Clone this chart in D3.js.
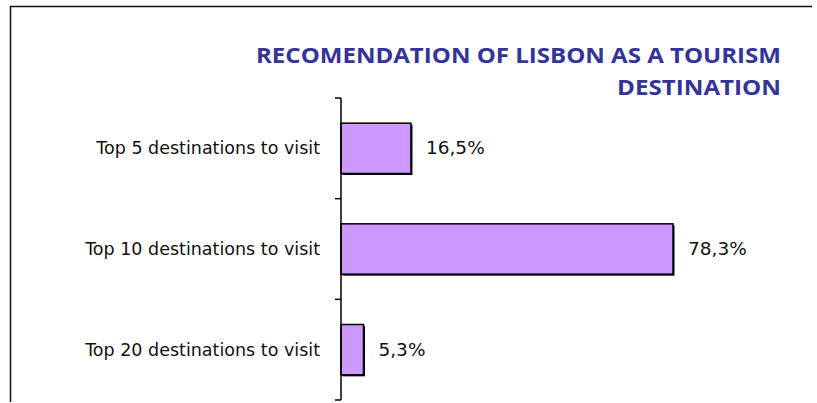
<!DOCTYPE html>
<html>
<head>
<meta charset="utf-8">
<script src="https://cdn.jsdelivr.net/npm/d3@7"></script>
<style>
  body { margin: 0; background: #fff; }
  svg { display: block; }
</style>
</head>
<body>
<div id="chart"></div>
<script>
"use strict"

const categories = ["Top 5 destinations to visit", "Top 10 destinations to visit", "Top 20 destinations to visit"];
const values = [16.5, 78.3, 5.3];
const valueLabels = ["16,5%", "78,3%", "5,3%"];
const titleLines = ["RECOMENDATION OF LISBON AS A TOURISM", "DESTINATION"];

let svg = d3.select("#chart").append("svg")
    .attr("width", 817)
    .attr("height", 403);

// frame: top and left border only
svg.append("path")
    .attr("d", "M10.5,402 V6.5 H812")
    .style("fill", "none")
    .style("stroke", "#111")
    .style("stroke-width", "1.5px");

// title, stretched to the width it has in the original
let titleWidths = [525, 164];
svg.selectAll(".title")
    .data(titleLines)
    .enter().append("text")
    .attr("class", "title")
    .attr("x", 781)
    .attr("y", (d, i) => 63 + i * 32)
    .attr("textLength", (d, i) => titleWidths[i])
    .attr("lengthAdjust", "spacingAndGlyphs")
    .style("text-anchor", "end")
    .style("font-family", "'Open Sans', sans-serif")
    .style("font-weight", "bold")
    .style("font-size", "21px")
    .style("fill", "#333399")
    .text(d => d);

let x = d3.scaleLinear()
    .domain([0, 100])
    .range([341, 765]);

let y = d3.scaleBand()
    .domain(categories)
    .range([98, 400])
    .paddingInner(0.5)
    .paddingOuter(0.25);

// shadow then bars
svg.selectAll(".shadow")
    .data(values)
    .enter().append("rect")
    .attr("class", "shadow")
    .attr("x", x(0) + 1.5)
    .attr("y", (d, i) => y(categories[i]) + 1.5)
    .attr("width", d => x(d) - x(0))
    .attr("height", y.bandwidth())
    .style("fill", "#000");

svg.selectAll(".bar")
    .data(values)
    .enter().append("rect")
    .attr("class", "bar")
    .attr("x", x(0))
    .attr("y", (d, i) => y(categories[i]))
    .attr("width", d => x(d) - x(0))
    .attr("height", y.bandwidth())
    .style("fill", "#CC99FF")
    .style("stroke", "#000")
    .style("stroke-width", "1.5px");

// axis line with ticks at category boundaries
let step = y.step();
let boundaries = categories.map(c => y(c) - (step - y.bandwidth()) / 2);
boundaries.push(boundaries[boundaries.length - 1] + step);

svg.append("line")
    .attr("x1", x(0))
    .attr("x2", x(0))
    .attr("y1", boundaries[0])
    .attr("y2", boundaries[boundaries.length - 1])
    .style("stroke", "#000")
    .style("stroke-width", "1.5px");

svg.selectAll(".tick")
    .data(boundaries)
    .enter().append("line")
    .attr("class", "tick")
    .attr("x1", x(0) - 6)
    .attr("x2", x(0))
    .attr("y1", d => d)
    .attr("y2", d => d)
    .style("stroke", "#000")
    .style("stroke-width", "1.5px");

// category labels
svg.selectAll(".catLabel")
    .data(categories)
    .enter().append("text")
    .attr("class", "catLabel")
    .attr("x", 320)
    .attr("y", d => y(d) + y.bandwidth() / 2 + 6)
    .style("text-anchor", "end")
    .style("font-family", "'DejaVu Sans', sans-serif")
    .style("font-size", "17.5px")
    .style("fill", "#111")
    .text(d => d);

// value labels
svg.selectAll(".valLabel")
    .data(values)
    .enter().append("text")
    .attr("class", "valLabel")
    .attr("x", d => x(d) + 15)
    .attr("y", (d, i) => y(categories[i]) + y.bandwidth() / 2 + 6)
    .style("font-family", "'DejaVu Sans', sans-serif")
    .style("font-size", "18.5px")
    .style("fill", "#111")
    .text((d, i) => valueLabels[i]);
</script>
</body>
</html>
